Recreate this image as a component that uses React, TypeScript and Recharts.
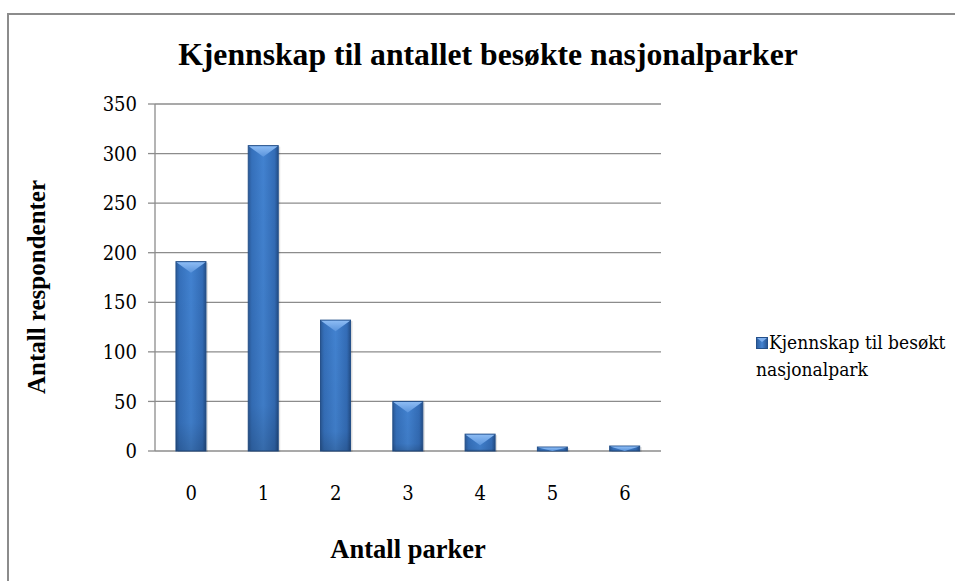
import React from 'react';
import { BarChart, Bar, XAxis, YAxis, CartesianGrid } from 'recharts';

// Antall parker (kategorier) og antall respondenter
const parker = ['0', '1', '2', '3', '4', '5', '6'];
const respondenter = [191, 308, 132, 50, 17, 4, 5];
const yTicks = [0, 50, 100, 150, 200, 250, 300, 350];
const kantTicks = [0, 1, 2, 3, 4, 5, 6, 7];

const tittel = 'Kjennskap til antallet besøkte nasjonalparker';
const yTittel = 'Antall respondenter';
const xTittel = 'Antall parker';
const serieNavn = 'Kjennskap til besøkt nasjonalpark';

const data = parker.map((p, i) => ({ park: p, antall: respondenter[i] }));

// fet skrift: Liberation Serif, vanlig skrift: DejaVu Serif Condensed
const FONT_BOLD = '"Liberation Serif", "Times New Roman", serif';
const FONT = '"DejaVu Serif Condensed", "DejaVu Serif", "Liberation Serif", serif';
const GRID = '#8c8c8c';

// Søyle med glans og avfaset topp (Excel-stil)
const BevelBar = (props: any) => {
  const { x, y, width, height } = props;
  if (!height || height <= 0) return null;
  const bevel = Math.min(11, height);
  const cx = x + width / 2;
  return (
    <g>
      <rect x={x + 2} y={y + 1} width={width} height={height} fill="#000" opacity={0.12} />
      <rect x={x} y={y} width={width} height={height} fill="url(#barGrad)" stroke="#24508a" strokeWidth={1} />
      <rect x={x} y={y} width={width} height={height} fill="url(#barShade)" />
      <polygon
        points={`${x + 0.5},${y + 0.5} ${x + width - 0.5},${y + 0.5} ${cx},${y + bevel}`}
        fill="url(#bevelGrad)"
      />
    </g>
  );
};

const LegendMarker = () => (
  <svg width={12} height={12} style={{ display: 'block', marginRight: 1 }}>
    <defs>
      <linearGradient id="legGrad" x1="0" y1="0" x2="1" y2="0">
        <stop offset="0" stopColor="#2c5c9c" />
        <stop offset="0.5" stopColor="#4584d2" />
        <stop offset="1" stopColor="#26528e" />
      </linearGradient>
    </defs>
    <rect x={0.5} y={0.5} width={11} height={11} fill="url(#legGrad)" stroke="#24508a" />
    <polygon points="1,1 11,1 6,5" fill="#7fb0ee" />
  </svg>
);

export default function App() {
  return (
    <div
      style={{
        position: 'absolute',
        left: 0,
        top: 0,
        width: 955,
        height: 581,
        overflow: 'hidden',
        background: '#fff',
        fontFamily: FONT_BOLD,
      }}
    >
      {/* ramme rundt diagrammet */}
      <div
        style={{
          position: 'absolute',
          left: 7,
          top: 13,
          width: 980,
          height: 600,
          borderLeft: `2px solid ${GRID}`,
          borderTop: `2px solid ${GRID}`,
        }}
      />

      <div
        style={{
          position: 'absolute',
          left: 0,
          width: 976,
          top: 37,
          textAlign: 'center',
          fontSize: 31.7,
          fontWeight: 'bold',
          lineHeight: '36px',
        }}
      >
        {tittel}
      </div>

      <div style={{ position: 'absolute', left: 0, top: 0 }}>
        <BarChart
          width={955}
          height={581}
          data={data}
          margin={{ top: 104, right: 294, left: 0, bottom: 0 }}
          barCategoryGap="29%"
        >
          <defs>
            <linearGradient id="barGrad" x1="0" y1="0" x2="1" y2="0">
              <stop offset="0" stopColor="#2b5a98" />
              <stop offset="0.12" stopColor="#3570bb" />
              <stop offset="0.5" stopColor="#4282d0" />
              <stop offset="0.88" stopColor="#336cb6" />
              <stop offset="1" stopColor="#234e88" />
            </linearGradient>
            <linearGradient id="barShade" x1="0" y1="0" x2="0" y2="1">
              <stop offset="0" stopColor="#000" stopOpacity={0} />
              <stop offset="0.85" stopColor="#000" stopOpacity={0.05} />
              <stop offset="1" stopColor="#000" stopOpacity={0.18} />
            </linearGradient>
            <linearGradient id="bevelGrad" x1="0" y1="0" x2="0" y2="1">
              <stop offset="0" stopColor="#8dbcf4" />
              <stop offset="1" stopColor="#5a94dc" />
            </linearGradient>
          </defs>
          <CartesianGrid horizontal vertical={false} stroke={GRID} strokeWidth={1.3} />
          <XAxis
            xAxisId="kant"
            type="number"
            domain={[0, 7]}
            ticks={kantTicks}
            allowDecimals={false}
            height={0}
            axisLine={{ stroke: GRID, strokeWidth: 1.3 }}
            tickLine={{ stroke: GRID, strokeWidth: 1.3 }}
            tickSize={7}
            tick={() => <g />}
          />
          <XAxis
            xAxisId="kat"
            dataKey="park"
            height={130}
            axisLine={false}
            tickLine={false}
            tickSize={0}
            tickMargin={35}
            tick={{ fill: '#000', fontSize: 20, fontFamily: FONT }}
          />
          <YAxis
            width={155}
            domain={[0, 350]}
            ticks={yTicks}
            axisLine={{ stroke: GRID, strokeWidth: 1.3 }}
            tickLine={{ stroke: GRID, strokeWidth: 1.3 }}
            tickSize={7}
            tickMargin={11}
            tick={{ fill: '#000', fontSize: 20, fontFamily: FONT }}
          />
          <Bar
            xAxisId="kat"
            dataKey="antall"
            name={serieNavn}
            shape={BevelBar}
            isAnimationActive={false}
          />
        </BarChart>
      </div>

      {/* aksetitler */}
      <div
        style={{
          position: 'absolute',
          left: 37,
          top: 287,
          transform: 'translate(-50%, -50%) rotate(-90deg)',
          whiteSpace: 'nowrap',
          fontSize: 25,
          fontWeight: 'bold',
        }}
      >
        {yTittel}
      </div>
      <div
        style={{
          position: 'absolute',
          left: 408,
          top: 549,
          transform: 'translate(-50%, -50%)',
          whiteSpace: 'nowrap',
          fontSize: 26.5,
          fontWeight: 'bold',
        }}
      >
        {xTittel}
      </div>

      {/* forklaring */}
      <div
        style={{
          position: 'absolute',
          left: 756,
          top: 329,
          width: 199,
          fontFamily: FONT,
          fontSize: 19,
          lineHeight: '27px',
          color: '#000',
          whiteSpace: 'nowrap',
        }}
      >
        <div style={{ display: 'flex', alignItems: 'center' }}>
          <LegendMarker />
          <span>Kjennskap til besøkt</span>
        </div>
        <div>nasjonalpark</div>
      </div>
    </div>
  );
}
